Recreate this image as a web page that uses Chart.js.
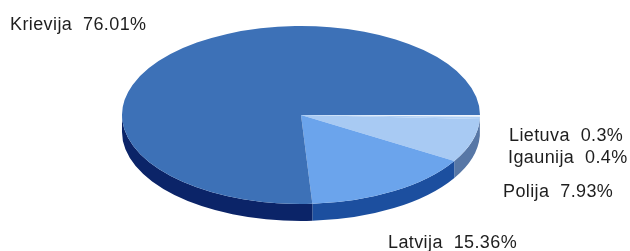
<!DOCTYPE html>
<html>
<head>
<meta charset="utf-8">
<script src="https://cdn.jsdelivr.net/npm/chart.js@4/dist/chart.umd.min.js"></script>
<style>
html,body{margin:0;padding:0;background:#fff;}
canvas{display:block;}
</style>
</head>
<body>
<canvas id="c" width="630" height="251"></canvas>
<script>
const categories = ['Lietuva', 'Igaunija', 'Polija', 'Latvija', 'Krievija'];
const shares = [0.3, 0.4, 7.93, 15.36, 76.01];
const labelTexts = ['Lietuva  0.3%', 'Igaunija  0.4%', 'Polija  7.93%', 'Latvija  15.36%', 'Krievija  76.01%'];
const topColors = ['#EDF3FB', '#B0D0F5', '#A8CAF3', '#6BA4EC', '#3D71B7'];
const sideColors = ['#8FA6C6', '#6E8DB8', '#5777A6', '#1C4F9F', '#0B2468'];

// 3D ellipse projection settings (layout)
const CX = 301, CY = 115, RX = 179, RY = 89, DEPTH = 17;
const labelPos = [[509, 141], [508, 163], [503, 197], [388, 248], [10, 30]];

const pie3d = {
  id: 'pie3d',
  beforeDatasetsDraw(chart) {
    const ctx = chart.ctx;
    const meta = chart.getDatasetMeta(0);
    ctx.save();
    meta.data.forEach((arc, i) => {
      const p = arc.getProps(['startAngle', 'endAngle'], true);
      let s = p.startAngle, e = p.endAngle;
      const TAU = Math.PI * 2;
      while (s < 0) { s += TAU; e += TAU; }
      while (s >= TAU) { s -= TAU; e -= TAU; }
      const ranges = [[s, e]];
      if (e > TAU) ranges.push([s - TAU, e - TAU]);
      ranges.forEach(([a, b]) => {
        const a0 = Math.max(a, 0), a1 = Math.min(b, Math.PI);
        if (a1 <= a0) return;
        ctx.beginPath();
        ctx.ellipse(CX, CY, RX, RY, 0, a0, a1, false);
        ctx.ellipse(CX, CY + DEPTH, RX, RY, 0, a1, a0, true);
        ctx.closePath();
        ctx.fillStyle = sideColors[i];
        ctx.fill();
      });
    });
    ctx.restore();
    ctx.save();
    const first = meta.data[0];
    const r = first.outerRadius;
    ctx.translate(CX, CY);
    ctx.scale(RX / r, RY / r);
    ctx.translate(-first.x, -first.y);
    meta.data.forEach(arc => arc.draw(ctx));
    ctx.restore();
    return false;
  },
  afterDraw(chart) {
    const ctx = chart.ctx;
    ctx.save();
    ctx.font = "18px 'Liberation Sans', Arial, sans-serif";
    try { ctx.letterSpacing = '0.4px'; } catch (e) {}
    ctx.fillStyle = '#1e1e1e';
    ctx.textBaseline = 'alphabetic';
    ctx.textAlign = 'left';
    labelTexts.forEach((t, i) => ctx.fillText(t, labelPos[i][0], labelPos[i][1]));
    ctx.restore();
  }
};

new Chart(document.getElementById('c'), {
  type: 'pie',
  data: {
    labels: categories,
    datasets: [{
      data: shares,
      backgroundColor: topColors,
      borderWidth: 0,
      borderColor: 'rgba(0,0,0,0)'
    }]
  },
  options: {
    responsive: false,
    animation: false,
    rotation: 90,
    layout: { padding: 0 },
    plugins: {
      legend: { display: false },
      tooltip: { enabled: false }
    }
  },
  plugins: [pie3d]
});
</script>
</body>
</html>
